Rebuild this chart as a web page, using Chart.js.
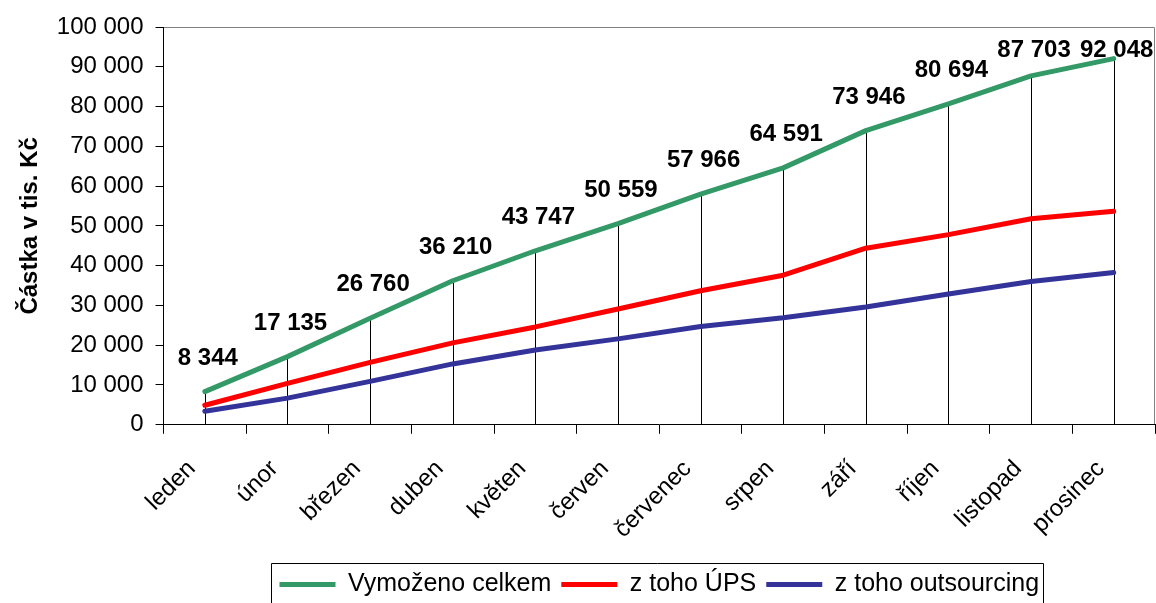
<!DOCTYPE html>
<html>
<head>
<meta charset="utf-8">
<script src="https://cdn.jsdelivr.net/npm/chart.js@4"></script>
<style>
    html, body { margin: 0; padding: 0; background: #fff; }
    #chart { display: block; }
</style>
</head>
<body>
<canvas id="chart" width="1156" height="603"></canvas>
<script>
// Months (category axis)
const months = ['leden', 'únor', 'březen', 'duben', 'květen', 'červen',
    'červenec', 'srpen', 'září', 'říjen', 'listopad', 'prosinec'];

// Cumulative amounts in thousands CZK
const totalCollected = [8344, 17135, 26760, 36210, 43747, 50559, 57966, 64591, 73946, 80694, 87703, 92048];
const upsPart = [4900, 10400, 15700, 20600, 24600, 29100, 33700, 37600, 44400, 47800, 51800, 53700];
const outsourcingPart = [3400, 6700, 10900, 15300, 18800, 21600, 24700, 26900, 29600, 32900, 36000, 38300];

// Y axis ticks
const yTicks = [0, 10000, 20000, 30000, 40000, 50000, 60000, 70000, 80000, 90000, 100000];

const FONT = 'Liberation Sans, Arial, sans-serif';

/**
 * Format number with a space as thousands separator
 */
function formatNumber(value) {
    return String(value).replace(/\B(?=(\d{3})+(?!\d))/g, ' ');
}

// Vertical drop lines from the total series down to the x axis
const dropLinesPlugin = {
    id: 'dropLines',
    beforeDatasetsDraw(chart) {
        const ctx = chart.ctx;
        const meta = chart.getDatasetMeta(0);
        const bottom = chart.chartArea.bottom;
        ctx.save();
        ctx.strokeStyle = '#000';
        ctx.lineWidth = 1;
        meta.data.forEach(point => {
            const x = Math.round(point.x) + 0.5;
            ctx.beginPath();
            ctx.moveTo(x, point.y);
            ctx.lineTo(x, bottom);
            ctx.stroke();
        });
        ctx.restore();
    }
};

// Value labels above the total series
const valueLabelsPlugin = {
    id: 'valueLabels',
    afterDatasetsDraw(chart) {
        const ctx = chart.ctx;
        const meta = chart.getDatasetMeta(0);
        const minBaseline = chart.chartArea.top + 30;
        ctx.save();
        ctx.font = 'bold 24px ' + FONT;
        ctx.fillStyle = '#000';
        ctx.textAlign = 'center';
        ctx.textBaseline = 'alphabetic';
        meta.data.forEach((point, i) => {
            const y = Math.max(point.y - 27, minBaseline);
            ctx.fillText(formatNumber(totalCollected[i]), point.x + 3, y);
        });
        ctx.restore();
    }
};

// Grey frame on top/right of the plot area, legend centred on the plot, legend border
const framePlugin = {
    id: 'frame',
    afterUpdate(chart) {
        const legend = chart.legend;
        if (legend) {
            legend.left = chart.chartArea.left;
            legend.right = chart.chartArea.right;
            legend.top += 4;
            legend.bottom += 4;
            legend.adjustHitBoxes();
        }
    },
    beforeDraw(chart) {
        const ctx = chart.ctx;
        const a = chart.chartArea;
        ctx.save();
        ctx.strokeStyle = '#808080';
        ctx.lineWidth = 1;
        ctx.beginPath();
        ctx.moveTo(a.left, a.top + 0.5);
        ctx.lineTo(a.right - 0.5, a.top + 0.5);
        ctx.lineTo(a.right - 0.5, a.bottom);
        ctx.stroke();
        ctx.restore();
    },
    afterDraw(chart) {
        const legend = chart.legend;
        if (!legend) return;
        const rowWidth = (legend.lineWidths && legend.lineWidths[0]) || legend.width;
        const startX = (legend.left + legend.right - rowWidth) / 2;
        const ctx = chart.ctx;
        ctx.save();
        ctx.strokeStyle = '#000';
        ctx.lineWidth = 1;
        ctx.beginPath();
        const l = Math.round(startX - 3) + 0.5;
        const r = Math.round(startX + rowWidth - 1) + 0.5;
        const t = Math.round(legend.top + 1) + 0.5;
        ctx.moveTo(l, chart.height + 2);
        ctx.lineTo(l, t);
        ctx.lineTo(r, t);
        ctx.lineTo(r, chart.height + 2);
        ctx.stroke();
        ctx.restore();
    }
};

document.addEventListener('DOMContentLoaded', function() {
    initChart();
});

function initChart() {
    const lineStyle = {
        borderWidth: 5,
        pointRadius: 0,
        pointHoverRadius: 0,
        tension: 0,
        borderCapStyle: 'round',
        borderJoinStyle: 'round',
        fill: false
    };

    new Chart(document.getElementById('chart'), {
        type: 'line',
        data: {
            labels: months,
            datasets: [
                Object.assign({ label: 'Vymoženo celkem', data: totalCollected, borderColor: '#339966', backgroundColor: '#339966' }, lineStyle),
                Object.assign({ label: 'z toho ÚPS', data: upsPart, borderColor: '#ff0000', backgroundColor: '#ff0000' }, lineStyle),
                Object.assign({ label: 'z toho outsourcing', data: outsourcingPart, borderColor: '#333399', backgroundColor: '#333399' }, lineStyle)
            ]
        },
        options: {
            responsive: false,
            animation: false,
            events: [],
            layout: {
                padding: { top: 27, left: 16, right: 1, bottom: 0 }
            },
            scales: {
                x: {
                    offset: true,
                    grid: {
                        offset: true,
                        drawOnChartArea: false,
                        tickLength: 9,
                        color: '#000'
                    },
                    border: { color: '#000', width: 1 },
                    ticks: {
                        minRotation: 45,
                        maxRotation: 45,
                        padding: 21,
                        labelOffset: -13,
                        color: '#000',
                        font: { family: FONT, size: 24 }
                    },
                    afterFit(scale) {
                        scale.height -= 7;
                    }
                },
                y: {
                    min: 0,
                    max: 100000,
                    afterBuildTicks(scale) {
                        scale.ticks = yTicks.map(v => ({ value: v }));
                    },
                    grid: {
                        drawOnChartArea: false,
                        tickLength: 8,
                        color: '#000'
                    },
                    border: { color: '#000', width: 1 },
                    ticks: {
                        padding: 12,
                        color: '#000',
                        font: { family: FONT, size: 24 },
                        callback: value => formatNumber(value)
                    },
                    title: {
                        display: true,
                        text: 'Částka v tis. Kč',
                        color: '#000',
                        font: { family: FONT, size: 24, weight: 'bold' },
                        padding: { top: 0, bottom: 0 }
                    }
                }
            },
            plugins: {
                legend: {
                    position: 'bottom',
                    labels: {
                        usePointStyle: true,
                        pointStyle: 'line',
                        pointStyleWidth: 56,
                        boxHeight: 25,
                        padding: 10,
                        color: '#000',
                        font: { family: FONT, size: 25 }
                    }
                },
                tooltip: { enabled: false }
            }
        },
        plugins: [dropLinesPlugin, valueLabelsPlugin, framePlugin]
    });
}
</script>
</body>
</html>
